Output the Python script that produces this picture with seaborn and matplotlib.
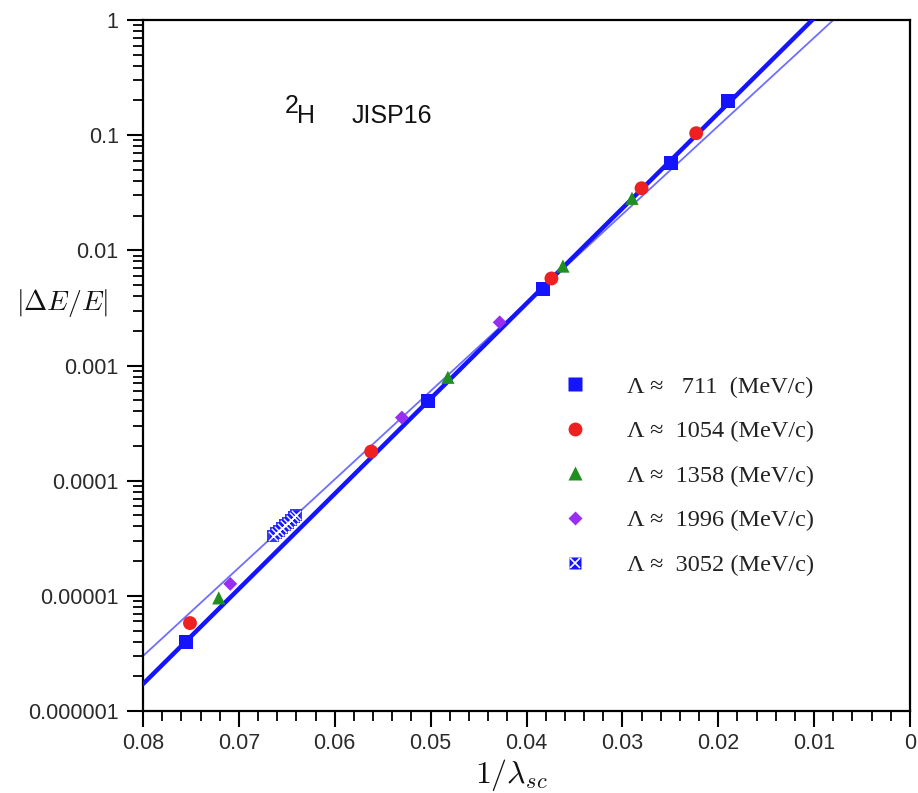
import numpy as np
import pandas as pd
import matplotlib
matplotlib.use("Agg")
import matplotlib.pyplot as plt
from matplotlib.ticker import FixedLocator, FixedFormatter, LogLocator, MultipleLocator, NullFormatter
from matplotlib.lines import Line2D
import seaborn as sns

# --- data: relative energy error vs inverse scaling parameter ---------------
x_711 = [0.0755, 0.0503, 0.0383, 0.0249, 0.0190]
y_711 = [4.0e-6, 4.96e-4, 4.58e-3, 0.0571, 0.198]

x_1054 = [0.0751, 0.0562, 0.0374, 0.0280, 0.0223]
y_1054 = [5.8e-6, 1.79e-4, 5.7e-3, 0.0346, 0.104]

x_1358 = [0.0721, 0.0482, 0.0362, 0.0290]
y_1358 = [9.6e-6, 7.9e-4, 7.3e-3, 0.0283]

x_1996 = [0.0709, 0.0530, 0.0428]
y_1996 = [1.27e-5, 3.53e-4, 2.37e-3]

x_3052 = [0.0664, 0.0661, 0.0658, 0.0655, 0.0652, 0.0649, 0.0646, 0.0643, 0.0640]
y_3052 = [3.32e-5, 3.50e-5, 3.69e-5, 3.89e-5, 4.10e-5, 4.32e-5, 4.56e-5, 4.81e-5, 5.07e-5]

# exponential fits: log10|dE/E| = a + b * (1/lambda)
fit_thick = (0.8425, -82.6)
fit_thin = (0.6136, -76.7)

labels = [
    "\u039b \u2248   711  (MeV/c)",
    "\u039b \u2248  1054 (MeV/c)",
    "\u039b \u2248  1358 (MeV/c)",
    "\u039b \u2248  1996 (MeV/c)",
    "\u039b \u2248  3052 (MeV/c)",
]

x_ticks = [0.08, 0.07, 0.06, 0.05, 0.04, 0.03, 0.02, 0.01, 0.0]
x_ticklabels = ["0.08", "0.07", "0.06", "0.05", "0.04", "0.03", "0.02", "0.01", "0"]
y_ticks = [1e-6, 1e-5, 1e-4, 1e-3, 1e-2, 1e-1, 1]
y_ticklabels = ["0.000001", "0.00001", "0.0001", "0.001", "0.01", "0.1", "1"]

# --- style --------------------------------------------------------------------
sns.set_theme(style="ticks")
plt.rcParams["font.family"] = ["Liberation Sans", "DejaVu Sans"]
plt.rcParams["mathtext.fontset"] = "cm"

BLUE = "#1414ff"
THIN_BLUE = "#6f6fff"
RED = "#ee2020"
GREEN = "#1f8f1f"
PURPLE = "#9a2ef0"
TICK_COL = "#2a2a2a"

fig = plt.figure(figsize=(9.18, 7.93), dpi=100)
ax = fig.add_axes([143 / 918, 82 / 793, 767 / 918, 691 / 793])

# --- fit lines ----------------------------------------------------------------
xg = np.linspace(0.0, 0.08, 400)
lines = pd.DataFrame({
    "x": np.concatenate([xg, xg]),
    "y": np.concatenate([10 ** (fit_thick[0] + fit_thick[1] * xg),
                         10 ** (fit_thin[0] + fit_thin[1] * xg)]),
    "fit": ["thick"] * len(xg) + ["thin"] * len(xg),
})
sns.lineplot(data=lines[lines.fit == "thin"], x="x", y="y", ax=ax,
             color=THIN_BLUE, lw=1.3, legend=False, zorder=2)
sns.lineplot(data=lines[lines.fit == "thick"], x="x", y="y", ax=ax,
             color=BLUE, lw=3.2, legend=False, zorder=3)

# --- data points ----------------------------------------------------------------
ms = 100
sns.scatterplot(x=x_711, y=y_711, ax=ax, marker="s", s=ms, color=BLUE,
                edgecolor="none", zorder=5)
sns.scatterplot(x=x_1054, y=y_1054, ax=ax, marker="o", s=ms, color=RED,
                edgecolor="none", zorder=5)
sns.scatterplot(x=x_1358, y=y_1358, ax=ax, marker="^", s=ms * 0.9, color=GREEN,
                edgecolor="none", zorder=5)
sns.scatterplot(x=x_1996, y=y_1996, ax=ax, marker="D", s=ms * 0.5, color=PURPLE,
                edgecolor="none", zorder=5)
sns.scatterplot(x=x_3052, y=y_3052, ax=ax, marker="s", s=ms * 0.75, color=BLUE,
                edgecolor="none", alpha=0.85, zorder=5)
sns.scatterplot(x=x_3052, y=y_3052, ax=ax, marker="x", s=ms * 0.45, color="white",
                linewidth=1.0, zorder=6)

# --- axes -----------------------------------------------------------------------
ax.set_yscale("log")
ax.set_xlim(0.08, 0.0)
ax.set_ylim(1e-6, 1)

ax.xaxis.set_major_locator(FixedLocator(x_ticks))
ax.xaxis.set_major_formatter(FixedFormatter(x_ticklabels))
ax.xaxis.set_minor_locator(MultipleLocator(0.002))
ax.yaxis.set_major_locator(FixedLocator(y_ticks))
ax.yaxis.set_major_formatter(FixedFormatter(y_ticklabels))
ax.yaxis.set_minor_locator(LogLocator(base=10, subs=np.arange(2, 10), numticks=20))
ax.yaxis.set_minor_formatter(NullFormatter())

for sp in ax.spines.values():
    sp.set_visible(True)
    sp.set_linewidth(1.6)
    sp.set_color("black")

ax.tick_params(axis="both", which="major", direction="out", length=11.5, width=1.5,
               color="black", labelsize=15.5, labelcolor=TICK_COL)
ax.tick_params(axis="both", which="minor", direction="out", length=7, width=1.3,
               color="black")
ax.tick_params(axis="y", which="major", pad=6)
ax.tick_params(axis="x", which="major", pad=4)
ax.tick_params(top=False, right=False, which="both")

ax.set_xlabel(r"$1/\lambda_{sc}$", fontsize=23, color="#111111", va="center")
ax.xaxis.set_label_coords(0.48, -0.093)
ax.set_ylabel(r"$|\Delta E/E|$", fontsize=20, rotation=0, color="#111111",
              ha="center", va="center")
ax.yaxis.set_label_coords(-0.105, 0.59)

# --- annotation -----------------------------------------------------------------
ax.text(0.185, 0.866, "2", transform=ax.transAxes, fontsize=18, va="baseline",
        color="#111111")
ax.text(0.2008, 0.851, "H", transform=ax.transAxes, fontsize=18, va="baseline",
        color="#111111")
ax.text(0.2725, 0.851, "JISP16", transform=ax.transAxes, fontsize=18, va="baseline",
        color="#111111")

# --- legend ---------------------------------------------------------------------
h711 = Line2D([], [], ls="none", marker="s", ms=10, mfc=BLUE, mec="none")
h1054 = Line2D([], [], ls="none", marker="o", ms=10, mfc=RED, mec="none")
h1358 = Line2D([], [], ls="none", marker="^", ms=10, mfc=GREEN, mec="none")
h1996 = Line2D([], [], ls="none", marker="D", ms=7, mfc=PURPLE, mec="none")
h3052a = Line2D([], [], ls="none", marker="s", ms=9, mfc=BLUE, mec="none")
h3052b = Line2D([], [], ls="none", marker="x", ms=6.5, mec="white", mew=1.2)
leg = ax.legend([h711, h1054, h1358, h1996, (h3052a, h3052b)], labels,
                loc="upper left", bbox_to_anchor=(0.51, 0.517), frameon=False,
                handlelength=1.6, handletextpad=1.3, labelspacing=0.93,
                prop={"family": ["Liberation Serif", "DejaVu Serif"], "size": 17.5})
for t in leg.get_texts():
    t.set_color("#222222")

fig.savefig("out.png", dpi=100)
